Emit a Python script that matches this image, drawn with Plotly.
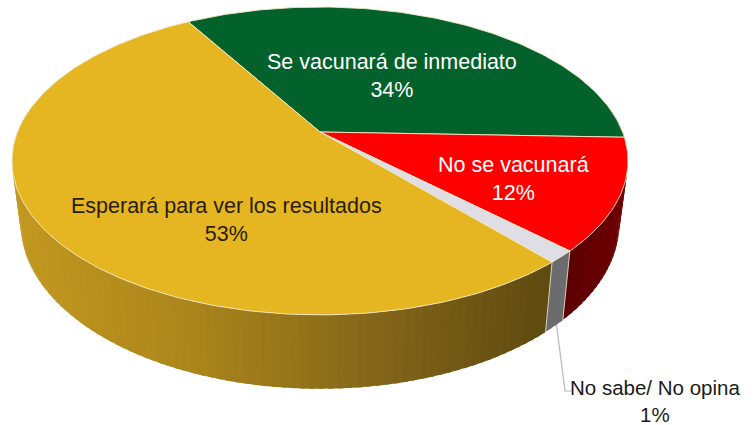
import numpy as np
import plotly.graph_objects as go

categories = ["Se vacunará de inmediato", "No se vacunará", "No sabe/ No opina", "Esperará para ver los resultados"]
values = [34.0, 11.7, 1.3, 53.0]
top_colors = ["#03612b", "#ff0000", "#dedee4", "#e5b622"]

CX, CY, F, G, K = 320.0, 132.0, 302.5, 148.5, 0.188
DEPTH, SHRINK = 60.0, 0.972
START = 120.4
EDGE = "#f3e9c4"


def top(deg):
    t = np.radians(deg)
    X, Y = np.cos(t), np.sin(t)
    d = 1 + K * Y
    return CX + F * X / d, CY - G * Y / d


def bottom(deg):
    x, y = top(deg)
    d = 1 + K * np.sin(np.radians(deg))
    return CX + (x - CX) * SHRINK, y + DEPTH / d


def mix(stops, u):
    u = min(max(u, 0), 1)
    p = np.linspace(0, 1, len(stops))
    return "rgb(%d,%d,%d)" % tuple(np.interp(u, p, [s[i] for s in stops]) for i in range(3))


def wall_color(i, x):
    if i == 3:
        return mix([(194, 152, 32), (172, 134, 28), (134, 104, 26), (96, 75, 16)], (x - 20) / 530)
    if i == 2:
        return "rgb(108,108,110)"
    if i == 1:
        return mix([(88, 0, 0), (100, 0, 0), (108, 0, 0)], (x - 565) / 60)
    return "rgb(2,60,27)"


fig = go.Figure()


def poly(xs, ys, fill, line=None, width=0.0):
    fig.add_trace(go.Scatter(x=list(xs), y=list(ys), mode="lines", fill="toself", fillcolor=fill,
                             line=dict(color=line or fill, width=width), hoverinfo="skip", showlegend=False))


spans = []
a = START
for v in values:
    b = a - v * 3.6
    spans.append((a, b))
    a = b

# side wall: only the part facing the viewer shows; strips overlap so no seams appear
for i, (a, b) in enumerate(spans):
    s, e = max(b, -190.0), min(a, 10.0)
    if e <= s:
        continue
    n = max(2, int((e - s) / 1.5))
    edges = np.linspace(s, e, n + 1)
    for p, q in zip(edges[:-1], edges[1:]):
        arc = np.linspace(p - 0.8, q, 4)
        xt, yt = top(arc)
        xb, yb = bottom(arc)
        poly(np.r_[xt, xb[::-1], xt[0]], np.r_[yt, yb[::-1], yt[0]], wall_color(i, (xt[-1] + xt[-2]) / 2))

# seams between wall pieces
for deg in [spans[1][1], spans[2][1]]:
    x0, y0 = top(deg)
    x1, y1 = bottom(deg)
    fig.add_trace(go.Scatter(x=[x0, x1], y=[y0, y1], mode="lines", line=dict(color="#d8d2b8", width=1),
                             hoverinfo="skip", showlegend=False))

# top face
for i, (a, b) in enumerate(spans):
    ang = np.linspace(a, b, max(3, int(abs(a - b))))
    xs, ys = top(ang)
    poly(np.r_[CX, xs, CX], np.r_[CY, ys, CY], top_colors[i], EDGE, 0.9)

# leader line
lead = bottom(spans[2][0] - 1.8)
fig.add_trace(go.Scatter(x=[lead[0], 565, 571], y=[lead[1], 391, 391], mode="lines",
                         line=dict(color="#b8b8b8", width=1.2), hoverinfo="skip", showlegend=False))

labels = [(392, 76, "#ffffff", 21.5), (513, 179, "#ffffff", 21.5), (655, 401, "#1a1a1a", 20.5), (226, 220, "#2a1d05", 21.5)]
for (lx, ly, col, sz), c, v in zip(labels, categories, values):
    fig.add_annotation(x=lx, y=ly, xref="x", yref="y", text=f"{c}<br>{v:.0f}%", showarrow=False,
                       align="center", font=dict(family="Liberation Sans, Arial", size=sz, color=col))

fig.update_layout(width=755, height=425, margin=dict(l=0, r=0, t=0, b=0), paper_bgcolor="white",
                  plot_bgcolor="white", showlegend=False,
                  xaxis=dict(range=[0, 755], visible=False, fixedrange=True),
                  yaxis=dict(range=[425, 0], visible=False, fixedrange=True))
fig.write_html("out.html", config={"displayModeBar": False},
               post_script="document.body.style.margin='0';document.documentElement.style.overflow='hidden';")
